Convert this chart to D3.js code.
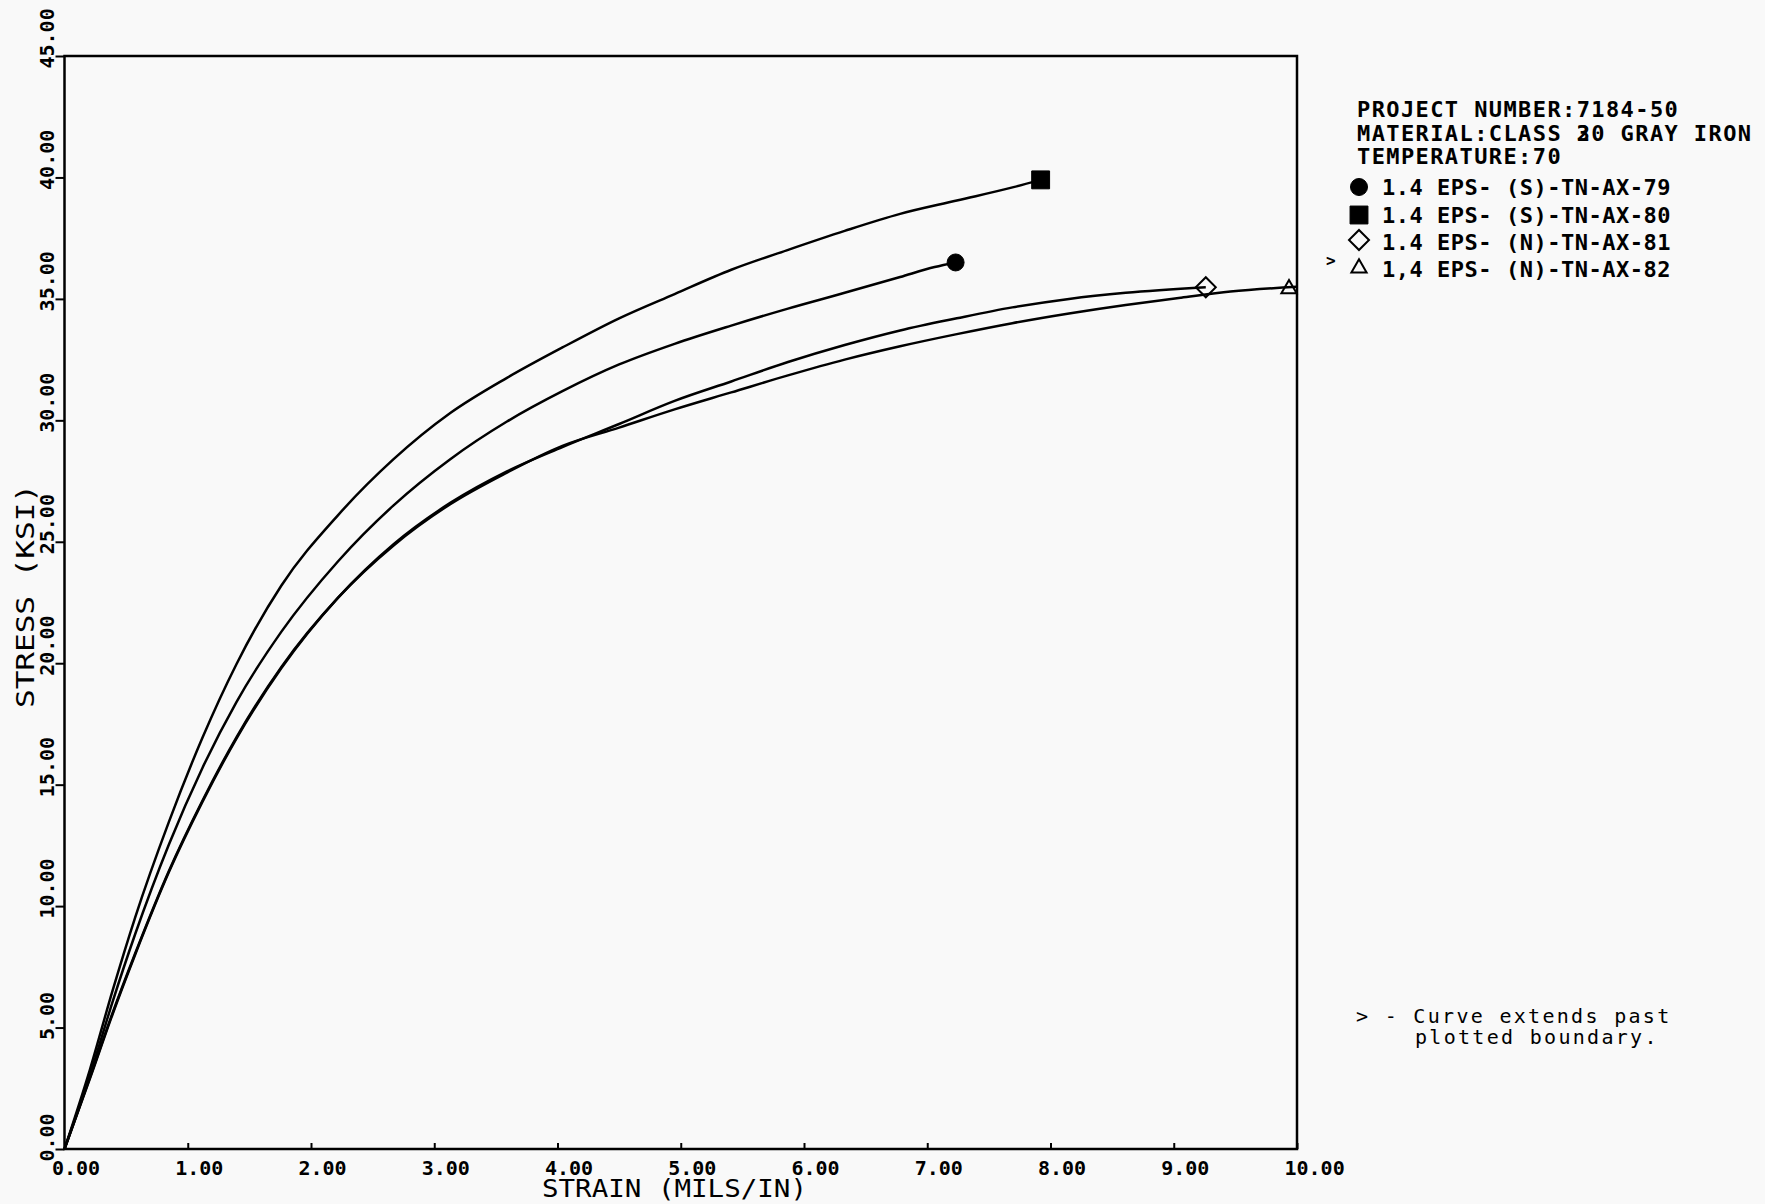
<!DOCTYPE html>
<html>
<head>
<meta charset="utf-8">
<script src="https://cdn.jsdelivr.net/npm/d3@7"></script>
<style>
  body { margin: 0; background: #f9f9f9; }
  text { font-family: "DejaVu Sans Mono", monospace; fill: #000; }
</style>
</head>
<body>
<script>
// ---- data ----
const xTicks = [0, 1, 2, 3, 4, 5, 6, 7, 8, 9, 10];
const yTicks = [0, 5, 10, 15, 20, 25, 30, 35, 40, 45];

const headerLines = ["PROJECT NUMBER:7184-50", "MATERIAL:CLASS 20 GRAY IRON", "TEMPERATURE:70"];
const seriesLabels = ["1.4 EPS- (S)-TN-AX-79", "1.4 EPS- (S)-TN-AX-80", "1.4 EPS- (N)-TN-AX-81", "1,4 EPS- (N)-TN-AX-82"];
const seriesSymbols = ["circle", "square", "diamond", "triangle"];
const seriesPastBoundary = [false, false, false, true];
const noteLines = ["> - Curve extends past", "plotted boundary."];

// strain (mils/in), stress (ksi)
const ax79 = [[0,0],[0.207,3.04],[0.39,6.06],[0.573,8.84],[0.847,12.54],[1.12,15.7],[1.395,18.4],
  [1.76,21.3],[2.22,24.2],[2.67,26.5],[3.13,28.4],[3.59,29.95],[4.04,31.2],[4.50,32.3],
  [4.95,33.15],[5.41,33.9],[5.87,34.6],[6.33,35.25],[6.78,35.9],[7.06,36.31],[7.23,36.5]];
const ax80 = [[0,0],[0.207,3.28],[0.39,6.52],[0.573,9.53],[0.847,13.47],[1.12,16.94],[1.395,19.96],
  [1.76,23.2],[2.22,26.1],[2.67,28.4],[3.13,30.3],[3.59,31.75],[4.04,33.0],[4.50,34.2],[4.95,35.2],
  [5.41,36.2],[5.86,37.0],[6.33,37.8],[6.78,38.5],[7.24,39.05],[7.70,39.6],[7.92,39.9]];
const ax81 = [[0,0],[0.207,2.91],[0.39,5.55],[0.573,8.0],[0.847,11.4],[1.12,14.3],[1.395,16.9],
  [1.76,19.8],[2.22,22.7],[2.67,24.9],[3.13,26.6],[3.59,27.9],[4.04,28.9],[4.50,29.85],
  [4.95,30.8],[5.41,31.6],[5.87,32.4],[6.33,33.1],[6.78,33.7],[7.24,34.2],[7.69,34.65],
  [8.15,35.0],[8.61,35.25],[9.26,35.48]];
const ax82 = [[0,0],[0.207,2.95],[0.39,5.6],[0.573,8.05],[0.847,11.45],[1.12,14.35],[1.395,16.95],
  [1.76,19.85],[2.22,22.7],[2.67,24.85],[3.13,26.55],[3.59,27.85],[4.04,28.95],[4.50,29.7],
  [4.95,30.45],[5.41,31.15],[5.87,31.85],[6.33,32.5],[6.78,33.05],[7.24,33.55],[7.69,34.0],
  [8.15,34.4],[8.61,34.75],[9.06,35.05],[9.46,35.3],[10.0,35.5]];
const seriesData = [ax79, ax80, ax81, ax82];

// ---- layout ----
const W = 1765, H = 1204;
const L = 64.5, R = 1297, T = 56, B = 1149;

const svg = d3.select("body").append("svg")
  .attr("width", W).attr("height", H)
  .style("background", "#f9f9f9");

const x = d3.scaleLinear().domain([0, 10]).range([L, R]);
const y = d3.scaleLinear().domain([0, 45]).range([B, T]);

// frame
svg.append("rect")
  .attr("x", L).attr("y", T).attr("width", R - L).attr("height", B - T)
  .attr("fill", "none").attr("stroke", "#000").attr("stroke-width", 2.5);

// x axis: ticks point inward, labels start left of the tick
const gx = svg.append("g")
  .attr("transform", "translate(0," + B + ")")
  .call(d3.axisBottom(x).tickValues(xTicks).tickSize(-6).tickSizeOuter(0).tickFormat(d3.format(".2f")));
gx.select(".domain").remove();
gx.selectAll("line").attr("stroke", "#000").attr("stroke-width", 2);
gx.selectAll("text")
  .attr("dy", null).attr("y", 26).attr("x", -13)
  .attr("text-anchor", "start")
  .style("font-size", "20px").style("font-weight", "bold").style("font-family", "DejaVu Sans Mono");

// y axis: ticks point outward, labels rotated
const gy = svg.append("g")
  .attr("transform", "translate(" + L + ",0)")
  .call(d3.axisLeft(y).tickValues(yTicks).tickSize(9).tickSizeOuter(0).tickFormat(d3.format(".2f")));
gy.select(".domain").remove();
gy.selectAll("line").attr("stroke", "#000").attr("stroke-width", 2);
gy.selectAll("text")
  .attr("dy", null).attr("x", null).attr("y", null)
  .attr("text-anchor", "start")
  .attr("transform", "translate(-11,12) rotate(-90)")
  .style("font-size", "20px").style("font-weight", "bold").style("font-family", "DejaVu Sans Mono");

// axis titles
svg.append("text")
  .attr("x", 542).attr("y", 1197)
  .attr("textLength", 265).attr("lengthAdjust", "spacingAndGlyphs")
  .style("font-size", "25px")
  .text("STRAIN (MILS/IN)");
svg.append("text")
  .attr("transform", "translate(34,708) rotate(-90)")
  .attr("textLength", 224).attr("lengthAdjust", "spacingAndGlyphs")
  .style("font-size", "25px")
  .text("STRESS (KSI)");

// curves
const line = d3.line()
  .x(d => x(d[0])).y(d => y(d[1]))
  .curve(d3.curveMonotoneX);

svg.append("g").selectAll("path")
  .data(seriesData)
  .join("path")
  .attr("d", line)
  .attr("fill", "none")
  .attr("stroke", "#000")
  .attr("stroke-width", 2.5)
  .attr("stroke-linejoin", "round");

// markers
function symbolPath(kind, scale) {
  const s = scale || 1;
  if (kind === "circle") return d3.symbol(d3.symbolCircle, 227 * s)();
  if (kind === "square") return d3.symbol(d3.symbolSquare, 320 * s)();
  if (kind === "diamond") return d3.symbol(d3.symbolSquare, 200 * s)();
  return d3.symbol(d3.symbolTriangle, 100 * s)();
}
function drawSymbol(g, kind, cx, cy, scale) {
  const filled = kind === "circle" || kind === "square";
  g.append("path")
    .attr("d", symbolPath(kind, scale))
    .attr("transform", "translate(" + cx + "," + cy + ")" + (kind === "diamond" ? " rotate(45)" : ""))
    .attr("fill", filled ? "#000" : "none")
    .attr("stroke", "#000")
    .attr("stroke-width", filled ? 1 : 2);
}

const gm = svg.append("g");
seriesData.forEach((s, i) => {
  const last = s[s.length - 1];
  const dx = seriesPastBoundary[i] ? -8 : 0;
  drawSymbol(gm, seriesSymbols[i], x(last[0]) + dx, y(last[1]) + (seriesPastBoundary[i] ? 2 : 0));
});

// header and legend
const lx = 1357;
const hdr = svg.append("g")
  .style("font-size", "22px").style("font-weight", "bold").style("letter-spacing", "1.4px");
const headerBase = [117, 141, 164];
headerLines.forEach((t, i) => {
  hdr.append("text").attr("x", lx).attr("y", headerBase[i]).text(t);
});
// overstruck digit in the class number
hdr.append("text").attr("x", lx + 15 * 14.64).attr("y", headerBase[1]).text("3");

const legBase = [195, 223, 250, 277];
const legSym = [187, 215, 240, 268];
seriesLabels.forEach((t, i) => {
  drawSymbol(svg, seriesSymbols[i], 1359, legSym[i], 1.0);
  hdr.append("text").attr("x", 1382).attr("y", legBase[i])
    .attr("textLength", 290).attr("lengthAdjust", "spacing")
    .text(t);
  if (seriesPastBoundary[i]) {
    svg.append("text").attr("x", 1326).attr("y", 266)
      .style("font-size", "16px").style("font-weight", "bold").text(">");
  }
});

// footnote
const note = svg.append("g")
  .style("font-size", "20px").style("letter-spacing", "2.3px");
noteLines.forEach((t, i) => {
  note.append("text").attr("x", i === 0 ? 1356 : 1415).attr("y", 1023 + i * 21).text(t);
});
</script>
</body>
</html>
